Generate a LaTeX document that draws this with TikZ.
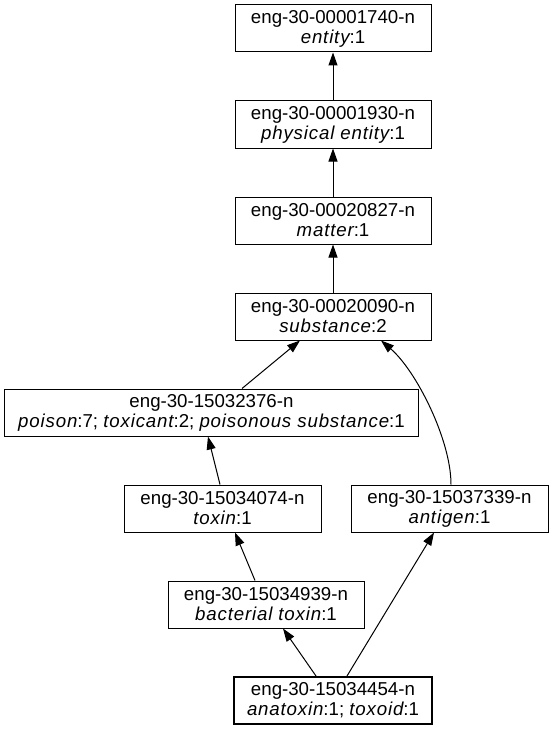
\documentclass[tikz,border=0pt]{standalone}
\usepackage{fontspec}
\setmainfont{Liberation Sans}
\newfontface\itspaced{Liberation Sans Italic}[LetterSpace=4.5]
\newcommand\syni[1]{{\itspaced #1}}
\usetikzlibrary{arrows.meta}
\begin{document}
\begin{tikzpicture}[x=1bp,y=-1bp,
  syn/.style={draw, line width=1bp, rectangle, inner sep=0pt, minimum height=47bp, align=center,
    font=\fontsize{18.67bp}{20bp}\selectfont},
  start/.style={syn, line width=2bp},
  edge/.style={line width=1bp, -{Triangle[length=13bp,width=9bp]}}]
\useasboundingbox[fill=white] (0,0) rectangle (553,731);
\node[syn, minimum width=196bp] (n1) at (333,28.5) {eng-30-00001740-n\\\syni{entity}:1};
\node[syn, minimum width=196bp] (n2) at (333,124.5) {eng-30-00001930-n\\\syni{physical entity}:1};
\node[syn, minimum width=196bp] (n3) at (333,220.5) {eng-30-00020827-n\\\syni{matter}:1};
\node[syn, minimum width=196bp] (n4) at (333,316.5) {eng-30-00020090-n\\\syni{substance}:2};
\node[syn, minimum width=413bp] (n5) at (211.5,412.5) {eng-30-15032376-n\\\syni{poison}:7; \syni{toxicant}:2; \syni{poisonous substance}:1};
\node[syn, minimum width=197bp] (n6) at (222.5,508.5) {eng-30-15034074-n\\\syni{toxin}:1};
\node[syn, minimum width=197bp] (n7) at (449.5,508.5) {eng-30-15037339-n\\\syni{antigen}:1};
\node[syn, minimum width=196bp] (n8) at (266,604.5) {eng-30-15034939-n\\\syni{bacterial toxin}:1};
\node[start, minimum width=198bp] (n9) at (333,700.5) {eng-30-15034454-n\\\syni{anatoxin}:1; \syni{toxoid}:1};

\draw[edge] (n2.north) -- (n1.south);
\draw[edge] (n3.north) -- (n2.south);
\draw[edge] (n4.north) -- (n3.south);
\draw[edge] ([xshift=30.5bp]n5.north) -- ([xshift=-33bp]n4.south);
\draw[edge] ([xshift=1.5bp]n7.north) .. controls +(0,-45) and +(35,30) .. ([xshift=48bp]n4.south);
\draw[edge] ([xshift=-2.5bp]n6.north) -- ([xshift=-3.5bp]n5.south);
\draw[edge] ([xshift=-11bp]n8.north) -- ([xshift=12.5bp]n6.south);
\draw[edge] ([xshift=-17bp]n9.north) -- ([xshift=17bp]n8.south);
\draw[edge] ([xshift=14bp]n9.north) -- ([xshift=-15.5bp]n7.south);
\end{tikzpicture}
\end{document}
